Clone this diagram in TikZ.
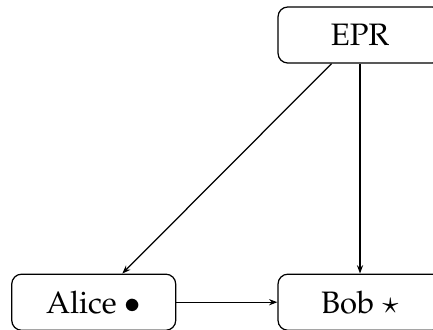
\documentclass[tikz,border=0pt]{standalone}
\usepackage[T1]{fontenc}
\usepackage{mathpazo}
\usepackage{tikz}
\usetikzlibrary{positioning, arrows.meta}

\begin{document}
\begin{tikzpicture}[
  x=0.3226pt, y=-0.3226pt,
  party/.style={draw, rounded corners=3.2pt, minimum width=52.9pt, minimum height=18.1pt,
                align=center},
  arr/.style={-{Stealth[length=2.7pt, width=2pt]}},
]
  \useasboundingbox (0,0) rectangle (433,329);

  \node[party] (epr) at (360,35) {EPR};
  \node[party, below=67.7pt of epr] (bob) {Bob $\star$};
  \node[party, left=32.6pt of bob] (alice) {Alice $\bullet$};

  \draw[arr] (epr) -- (alice);
  \draw[arr] (epr) -- (bob);
  \draw[arr] (alice) -- (bob);

\end{tikzpicture}
\end{document}
